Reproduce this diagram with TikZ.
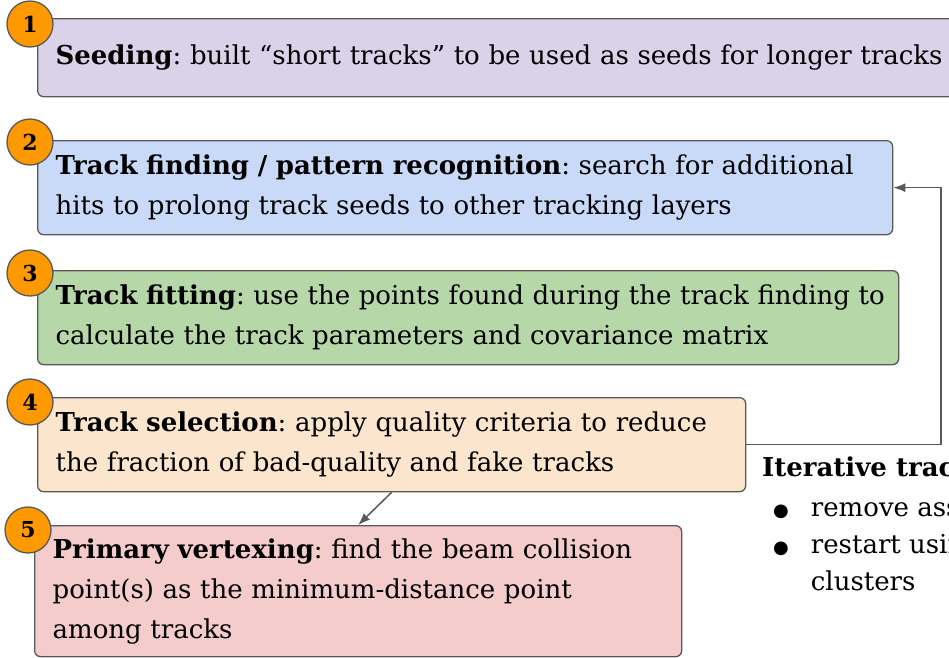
\documentclass[tikz,border=0pt]{standalone}
\usepackage{fontspec}
\setmainfont{DejaVu Serif}
\newfontfamily\bulletfont{DejaVu Sans}
\usetikzlibrary{arrows.meta}
\definecolor{edgegray}{HTML}{595959}
\definecolor{numorange}{HTML}{FF9900}
\definecolor{seedfill}{HTML}{D9D2E9}
\definecolor{findfill}{HTML}{C9DAF8}
\definecolor{fitfill}{HTML}{B6D7A8}
\definecolor{selfill}{HTML}{FCE5CD}
\definecolor{vtxfill}{HTML}{F4CCCC}
\frenchspacing
\tikzset{
    step-box/.style = {draw=edgegray, line width=1.3pt, rectangle, rounded corners=6pt, anchor=north west, align=left, inner xsep=18pt, inner ysep=0pt, font=\fontsize{26}{40}\selectfont},
    step-num/.style = {circle, draw=edgegray, fill=numorange, line width=1.3pt, minimum size=46pt, inner sep=0pt, font=\fontsize{22}{22}\selectfont\bfseries},
    flow/.style = {draw=edgegray, line width=1.5pt, -{Latex[length=12pt,width=9pt]}},
}

\begin{document}
\begin{tikzpicture}[x=1pt, y=-1pt]
\useasboundingbox (0,0) rectangle (949,657);
\clip (0,0) rectangle (949,657);

% the five reconstruction steps
\node[step-box, fill=seedfill, text width=924pt, minimum height=78pt] (seed) at (37,18)
    {\textbf{Seeding}: built “short tracks” to be used as seeds for longer tracks};
\node[step-box, fill=findfill, text width=819pt, minimum height=94pt] (find) at (37,140)
    {\textbf{Track finding / pattern recognition}: search for additional\\hits to prolong track seeds to other tracking layers};
\node[step-box, fill=fitfill, text width=825pt, minimum height=94pt] (fit) at (37,270)
    {\mbox{\textbf{Track fitting}: use the points found during the track finding to}\\calculate the track parameters and covariance matrix};
\node[step-box, fill=selfill, text width=672pt, minimum height=94pt] (sel) at (37,397)
    {\textbf{Track selection}: apply quality criteria to reduce\\the fraction of bad-quality and fake tracks};
\node[step-box, fill=vtxfill, text width=611pt, minimum height=131pt] (vtx) at (34,525)
    {\textbf{Primary vertexing}: find the beam collision\\point(s) as the minimum-distance point\\among tracks};

% numbered badges
\node[step-num] (n1) at (30,24) {1};
\node[step-num] (n2) at (30,142) {2};
\node[step-num] (n3) at (30,273) {3};
\node[step-num] (n4) at (30,402) {4};
\node[step-num] (n5) at (28,530) {5};

% iteration note
\node[anchor=base west, inner sep=0pt, font=\fontsize{26}{40}\selectfont\bfseries] (iter) at (762,476) {Iterative tracking:};
\node[anchor=north west, align=left, inner sep=0pt, font=\fontsize{26}{37}\selectfont] (iterlist) at (773,490)
    {\begin{tabular}{@{}l@{\hspace{22pt}}l@{}}
     {\bulletfont\fontsize{18}{18}\selectfont ●} & remove associated hits\\
     {\bulletfont\fontsize{18}{18}\selectfont ●} & restart using remaining\\
     & clusters
     \end{tabular}};

% connectors
\coordinate (loop) at (941,300);
\draw[flow] (sel.east) -| (loop) |- (find.east);
\draw[flow] (sel.south) -- (vtx.north);
\end{tikzpicture}
\end{document}
